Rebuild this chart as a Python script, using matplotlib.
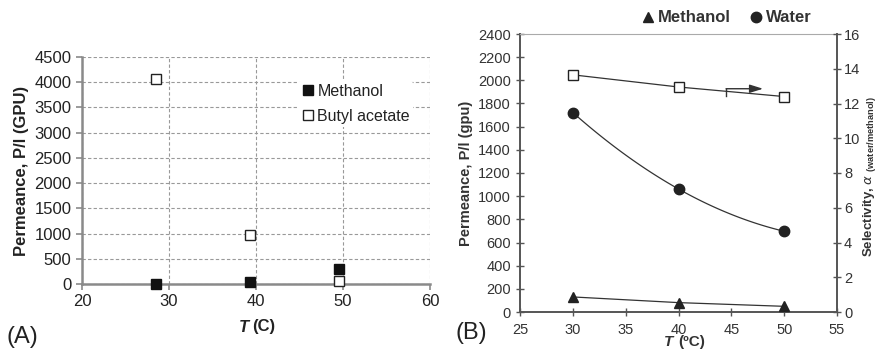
import numpy as np
import matplotlib
matplotlib.use("Agg")
import matplotlib.pyplot as plt
from matplotlib.lines import Line2D

plt.rcParams['font.family'] = ['Liberation Sans', 'DejaVu Sans']

# Panel A data
a_temp_meoh = [28.5, 39.3, 49.5]
a_meoh = [0, 30, 290]
a_temp_ba = [28.5, 39.3, 49.5]
a_ba = [4070, 980, 50]
a_xticks = [20, 30, 40, 50, 60]
a_yticks = [0, 500, 1000, 1500, 2000, 2500, 3000, 3500, 4000, 4500]

# Panel B data
b_temp = [30, 40, 50]
b_water = [1722, 1062, 697]
b_meoh = [130, 81, 49]
b_select = [13.65, 12.95, 12.4]
b_xticks = [25, 30, 35, 40, 45, 50, 55]
b_yticks = [0, 200, 400, 600, 800, 1000, 1200, 1400, 1600, 1800, 2000, 2200, 2400]
b_y2ticks = [0, 2, 4, 6, 8, 10, 12, 14, 16]

W, H = 880, 352
fig = plt.figure(figsize=(W/100, H/100), dpi=100)

def px_axes(l, t, r, b):
    return fig.add_axes([l/W, (H-b)/H, (r-l)/W, (b-t)/H])

tc = '#222222'
# ---------------- Panel A ----------------
axA = px_axes(82, 57, 430, 284)
axA.set_xlim(20, 60)
axA.set_ylim(0, 4500)
axA.set_xticks(a_xticks)
axA.set_yticks(a_yticks)
axA.grid(True, linestyle=(0, (3, 2)), color='#999999', linewidth=0.8)
axA.set_axisbelow(True)
for s in ['top', 'right']:
    axA.spines[s].set_visible(False)
for s in ['left', 'bottom']:
    axA.spines[s].set_color('#8a8a8a')
    axA.spines[s].set_linewidth(1.8)
axA.tick_params(axis='both', colors='#8a8a8a', labelcolor=tc, labelsize=12, length=4, width=1.2)
axA.plot(a_temp_meoh, a_meoh, 's', color='#111111', markersize=6.5, label='Methanol', clip_on=False, zorder=3)
axA.plot(a_temp_ba, a_ba, 's', markerfacecolor='white', markeredgecolor='#222222', markeredgewidth=1.0,
         markersize=6.5, label='Butyl acetate', clip_on=False, zorder=3)
leg = axA.legend(loc='upper right', bbox_to_anchor=(0.975, 0.93), frameon=True, fontsize=11.5,
                 handletextpad=0.2, handlelength=0.8, borderpad=0.2, labelspacing=0.6, markerscale=1.0)
leg.get_frame().set_edgecolor('none')
leg.get_frame().set_facecolor('white')
leg.get_frame().set_alpha(1)
for t in leg.get_texts():
    t.set_color(tc)
axA.set_ylabel('Permeance, P/l (GPU)', fontsize=12, fontweight='bold', color=tc, labelpad=4)
fig.text(249/W, 1-327/H, 'T', fontsize=12, fontweight='bold', style='italic', color=tc, ha='right', va='center')
fig.text(252/W, 1-327/H, '(C)', fontsize=12, fontweight='bold', color=tc, ha='left', va='center')
fig.text(7/W, 1-337/H, '(A)', fontsize=17, color=tc, ha='left', va='center')

# ---------------- Panel B ----------------
axB = px_axes(520, 34, 837, 312)
axB.set_xlim(25, 55)
axB.set_ylim(0, 2400)
axB.set_xticks(b_xticks)
axB.set_yticks(b_yticks)
axB.spines['top'].set_color('#aaaaaa')
axB.spines['top'].set_linewidth(0.8)
axB.spines['right'].set_visible(False)
for s in ['left', 'bottom']:
    axB.spines[s].set_color('#555555')
    axB.spines[s].set_linewidth(1.4)
axB.tick_params(axis='both', direction='inout', colors='#555555', labelcolor='#333333', labelsize=10.5, length=6, width=1.0)
axB.tick_params(axis='x', pad=5)

xs = np.linspace(b_temp[0], b_temp[-1], 100)
cw = np.polyfit(b_temp, b_water, 2)
axB.plot(xs, np.polyval(cw, xs), '-', color='#333333', linewidth=0.9)
axB.plot(b_temp, b_water, 'o', color='#222222', markersize=7.5, clip_on=False, zorder=3)
axB.plot(b_temp, b_meoh, '-', color='#333333', linewidth=0.9)
axB.plot(b_temp, b_meoh, '^', color='#222222', markersize=7.5, clip_on=False, zorder=3)

axB2 = axB.twinx()
axB2.set_ylim(0, 16)
axB2.set_yticks(b_y2ticks)
for s in ['top', 'left', 'bottom']:
    axB2.spines[s].set_visible(False)
axB2.spines['right'].set_color('#555555')
axB2.spines['right'].set_linewidth(1.4)
axB2.tick_params(axis='y', direction='inout', colors='#555555', labelcolor='#333333', labelsize=10.5, length=6, width=1.0, pad=2)
axB2.plot(b_temp, b_select, '-', color='#333333', linewidth=0.9)
axB2.plot(b_temp, b_select, 's', markerfacecolor='white', markeredgecolor='#222222', markeredgewidth=1.0,
          markersize=7.5, zorder=3)
# arrow pointing to right axis
axB2.plot([44.5, 44.5], [12.45, 12.85], '-', color='#333333', linewidth=1.0)
axB2.annotate('', xy=(48.0, 12.85), xytext=(44.5, 12.85),
              arrowprops=dict(arrowstyle='-|>,head_length=0.8,head_width=0.25', color='#333333', lw=1.0,
                              shrinkA=0, shrinkB=0))

axB.set_ylabel('Permeance, P/l (gpu)', fontsize=10.5, fontweight='bold', color='#333333', labelpad=4)
fig.text(869/W, 1-176/H, r'Selectivity, $\alpha$ $_{\mathregular{(water/methanol)}}$', fontsize=9.5,
         fontweight='bold', color='#333333', rotation=90, ha='center', va='center')
fig.text(673/W, 1-342/H, 'T', fontsize=11, fontweight='bold', style='italic', color='#333333', ha='right', va='center')
fig.text(678/W, 1-342/H, '(ºC)', fontsize=11, fontweight='bold', color='#333333', ha='left', va='center')
fig.text(455/W, 1-333/H, '(B)', fontsize=17, color=tc, ha='left', va='center')

# top legend for panel B
hB = [Line2D([], [], marker='^', linestyle='none', color='#222222', markersize=7.5),
      Line2D([], [], marker='o', linestyle='none', color='#222222', markersize=7.5)]
legB = fig.legend(hB, ['Methanol', 'Water'], loc='center', bbox_to_anchor=(726/W, 1-18/H), ncol=2,
                  frameon=False, handletextpad=0.1, handlelength=1.0, columnspacing=1.0,
                  prop={'weight': 'bold', 'size': 12})
for t in legB.get_texts():
    t.set_color('#333333')

fig.savefig('out.png', dpi=100)
